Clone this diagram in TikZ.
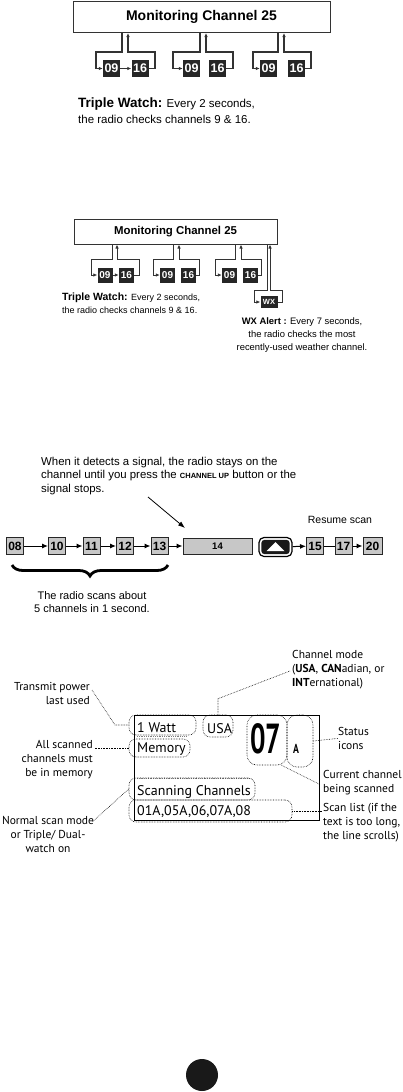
\documentclass[tikz,border=0pt]{standalone}
\usepackage{fontspec}
\setmainfont{Liberation Sans}
\newfontfamily\myriad{PT Sans}
\usetikzlibrary{arrows.meta,calc,decorations.pathreplacing}

\tikzset{
  chan/.style={fill=black!85,text=white,font=\bfseries\fontsize{12.5}{12.5}\selectfont,minimum width=17,minimum height=17,inner sep=0},
  chansm/.style={chan,font=\bfseries\fontsize{10}{10}\selectfont,minimum width=15,minimum height=15},
  monbox/.style={draw=black!80,line width=1pt,font=\bfseries\fontsize{14}{14}\selectfont,inner sep=0},
  wire/.style={draw=black!80,line width=1.3pt},
  wiresm/.style={draw=black!80,line width=1pt},
  tip/.style={-{Latex[length=4pt,width=3.5pt]}},
  scanbox/.style={draw=black!85,fill=black!22,line width=1pt,font=\bfseries\fontsize{12}{12}\selectfont,minimum width=17,minimum height=17,inner sep=0},
  scanarrow/.style={line width=1pt,-{Latex[length=6pt,width=5pt]}},
  bubble/.style={draw,densely dotted,line width=0.6pt,rounded corners=7pt,inner sep=0},
  lead/.style={densely dotted,line width=0.6pt},
  tag/.style={font=\myriad\fontsize{11.5}{14}\selectfont,inner sep=0},
  lcd/.style={anchor=base west,inner sep=0,font=\myriad\fontsize{14}{14}\selectfont},
}

\begin{document}
\begin{tikzpicture}[x=1pt,y=-1pt]
\useasboundingbox (0,0) rectangle (403,1092);

% triple watch, large
\node[monbox,minimum width=257,minimum height=31] (mon) at (201.5,17) {Monitoring Channel 25};
\node[chan] (a1) at (111.5,68.5) {09};
\node[chan] (b1) at (140,68.5) {16};
\node[chan] (a2) at (191.5,68.5) {09};
\node[chan] (b2) at (217.5,68.5) {16};
\node[chan] (a3) at (268.5,68.5) {09};
\node[chan] (b3) at (296.5,68.5) {16};
\draw[wire,tip] (mon.south -| 122,0) |- (96,52) |- (a1.west);
\draw[wire,tip] (b1.east) -| (155,52) -| (mon.south -| 128,0);
\draw[wire,tip,line width=1pt] (a1) -- (b1);
\draw[wire,tip] (mon.south -| 200,0) |- (173,52) |- (a2.west);
\draw[wire,tip] (b2.east) -| (233,52) -| (mon.south -| 206,0);
\draw[wire,tip] (mon.south -| 278,0) |- (253,52) |- (a3.west);
\draw[wire,tip] (b3.east) -| (311,52) -| (mon.south -| 284,0);
\node[anchor=base west,inner sep=0,font=\fontsize{11.5}{11.5}\selectfont] (tw1) at (78,107) {{\bfseries\fontsize{13.5}{13.5}\selectfont Triple Watch:} Every 2 seconds,};
\node[anchor=base west,inner sep=0,font=\fontsize{11.5}{11.5}\selectfont] (tw1b) at (78,123) {the radio checks channels 9 \& 16.};

% triple watch with weather alert
\node[monbox,font=\bfseries\fontsize{11.4}{11.4}\selectfont,minimum width=203,minimum height=25] (mon2) at (175.5,231.5) {Monitoring Channel 25};
\node[chansm] (c1) at (105,275) {09};
\node[chansm] (d1) at (126.5,275) {16};
\node[chansm] (c2) at (167.5,275) {09};
\node[chansm] (d2) at (188.5,275) {16};
\node[chansm] (c3) at (229.5,275) {09};
\node[chansm] (d3) at (250.5,275) {16};
\node[chansm,minimum width=17,minimum height=12,font=\bfseries\fontsize{7.5}{7.5}\selectfont] (wx) at (269,302) {WX};
\draw[wiresm,tip] (mon2.south -| 112,0) |- (91,259) |- (c1.west);
\draw[wiresm,tip] (d1.east) -| (139,259) -| (mon2.south -| 117,0);
\draw[wiresm,tip,line width=0.8pt] (c1) -- (d1);
\draw[wiresm,tip] (mon2.south -| 173,0) |- (153,259) |- (c2.west);
\draw[wiresm,tip] (d2.east) -| (199,259) -| (mon2.south -| 179,0);
\draw[wiresm,tip] (mon2.south -| 235,0) |- (215,259) |- (c3.west);
\draw[wiresm,tip] (d3.east) -| (261,259) -| (mon2.south -| 241,0);
\draw[wiresm,tip] (mon2.south -| 267,0) |- (254,290) |- (wx.west);
\draw[wiresm,tip] (wx.east) -| (282,290) -| (mon2.south -| 270,0);
\node[anchor=base west,inner sep=0,font=\fontsize{9}{9}\selectfont] (tw2) at (62,300) {{\bfseries\fontsize{10.5}{10.5}\selectfont Triple Watch:} Every 2 seconds,};
\node[anchor=base west,inner sep=0,font=\fontsize{9}{9}\selectfont] (tw2b) at (62,313) {the radio checks channels 9 \& 16.};
\node[anchor=north,align=center,inner sep=0,font=\fontsize{9.4}{13}\selectfont] (wxnote) at (302,317) {{\bfseries WX Alert :} Every 7 seconds,\\the radio checks the most\\recently-used weather channel.};

% scanning
\node[anchor=north west,align=left,inner sep=0,font=\fontsize{11.4}{13.5}\selectfont] (note) at (41,457) {When it detects a signal, the radio stays on the\\channel until you press the {\bfseries\fontsize{7.5}{7.5}\selectfont CHANNEL UP} button or the\\signal stops.};
\node[scanbox] (s08) at (15,546) {08};
\node[scanbox] (s10) at (57,546) {10};
\node[scanbox] (s11) at (91.5,546) {11};
\node[scanbox] (s12) at (125,546) {12};
\node[scanbox] (s13) at (159.5,546) {13};
\node[scanbox,minimum width=69,minimum height=16,font=\bfseries\fontsize{9.5}{9.5}\selectfont] (s14) at (217.5,546) {14};
\node[draw,line width=1.2pt,rounded corners=5pt,minimum width=33,minimum height=19,inner sep=0] (upbtn) at (275.5,547) {};
\fill[black!90,rounded corners=3pt] ($(upbtn.south west)+(3,-3)$) rectangle ($(upbtn.north east)+(-3,3)$);
\fill[white] ($(upbtn.center)+(-9,4)$) -- ($(upbtn.center)+(9,4)$) -- ($(upbtn.center)+(0,-5)$) -- cycle;
\node[scanbox] (s15) at (315,546) {15};
\node[scanbox] (s17) at (343.5,546) {17};
\node[scanbox,minimum width=19] (s20) at (372.5,546) {20};
\draw[scanarrow] (s08) -- (s10);
\draw[scanarrow] (s10) -- (s11);
\draw[scanarrow] (s11) -- (s12);
\draw[scanarrow] (s12) -- (s13);
\draw[scanarrow] (s13) -- (s14);
\draw[scanarrow] (upbtn) -- (s15);
\draw[line width=1pt] (s15) -- (s17);
\draw[scanarrow] (s17) -- (s20);
\coordinate (ntail) at (148,497);
\coordinate (nhead) at (185,528);
\draw[line width=0.8pt,-{Latex[length=7pt,width=5pt]}] (ntail) -- (nhead);
\node[font=\fontsize{10.5}{10.5}\selectfont] (resume) at (340,520) {Resume scan};
\draw[decorate,decoration={brace,mirror,amplitude=11pt},line width=2.8pt] (12,565) -- (168,565);
\node[anchor=north,align=center,inner sep=0,font=\fontsize{11}{13.5}\selectfont] (scannote) at (92,591) {The radio scans about\\5 channels in 1 second.};

% display
\node[draw,line width=1pt,minimum width=185,minimum height=105,inner sep=0] (disp) at (226.5,767.5) {};
\draw[gray,densely dotted,line width=0.8pt] (137,736) -- (186,736);
\draw[gray,densely dotted,line width=0.8pt] (137,778) -- (250,778);
\node[lcd] (watt) at (137,732) {1 Watt};
\node[lcd] (mem) at (137,752) {Memory};
\node[lcd] (scn) at (137,795) {Scanning Channels};
\node[lcd] (lst) at (137,815) {01A,05A,06,07A,08};
\node[lcd] (usa) at (207,733) {USA};
\node[lcd,font=\myriad\bfseries\fontsize{42}{42}\selectfont] (num) at (250,753) {\scalebox{0.65}[1]{07}};
\node[lcd,font=\myriad\bfseries\fontsize{13}{13}\selectfont] (stat) at (293,753) {\scalebox{0.75}[1]{A}};
\node[bubble,minimum width=67,minimum height=20] (bw) at (162.5,725) {};
\node[bubble,minimum width=61,minimum height=18] (bm) at (159.5,748) {};
\node[bubble,minimum width=126,minimum height=22] (bs) at (192,789) {};
\node[bubble,minimum width=163,minimum height=22] (bl) at (210.5,811) {};
\node[bubble,minimum width=30,minimum height=22] (bu) at (218,726) {};
\node[bubble,minimum width=40,minimum height=50,rounded corners=10pt] (bn) at (267,740) {};
\node[bubble,minimum width=26,minimum height=52,rounded corners=10pt] (ba) at (300,741) {};

\node[tag,anchor=north east,align=right] (tp) at (90,682) {Transmit power\\last used};
\node[tag,anchor=north east,align=right] (as) at (93,740) {All scanned\\channels must\\be in memory};
\node[tag,anchor=north,align=center] (ns) at (48,816) {Normal scan mode\\or Triple/ Dual-\\watch on};
\node[tag,anchor=north west,align=left] (cm) at (292,650) {Channel mode\\(\textbf{USA}, \textbf{CAN}adian, or\\\textbf{INT}ernational)};
\node[tag,anchor=north west,align=left] (si) at (338,727) {Status\\icons};
\node[tag,anchor=north west,align=left] (cc) at (323,770) {Current channel\\being scanned};
\node[tag,anchor=north west,align=left] (sl) at (323,803) {Scan list (if the\\text is too long,\\the line scrolls)};
\draw[lead] (tp.north east) ++(2,8) -- (115,725) -- (bw.west);
\draw[lead] (bm.west) -- ++(-34,0);
\draw[lead] (bs.west) -- ($(ns.north east)+(-2,6)$);
\draw[lead] (bu.north) -- ++(0,-16) -- ($(cm.north west)+(-2,21)$);
\draw[lead] (ba.east) -- (si.west);
\draw[lead] (bn.-60) -- ($(cc.north west)+(-4,14)$);
\draw[lead] (bl.east) -- ++(30,0);

\fill[black!90] (202,1075) circle (16);
\end{tikzpicture}
\end{document}
